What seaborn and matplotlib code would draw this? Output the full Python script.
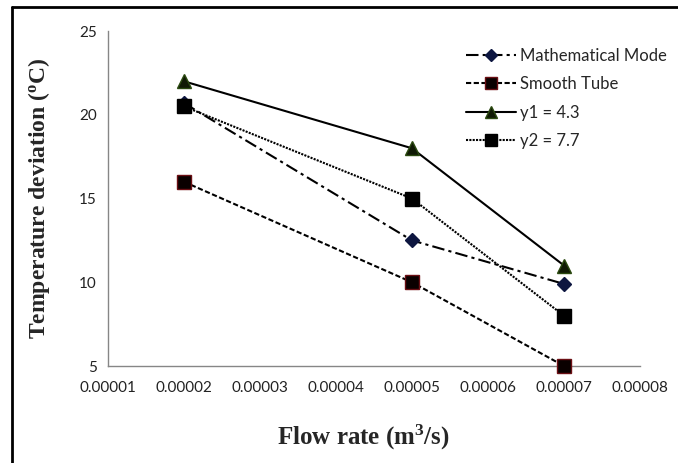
import matplotlib
matplotlib.use("Agg")
import matplotlib.pyplot as plt
from matplotlib.lines import Line2D
import pandas as pd
import seaborn as sns

# Data
flow_rate = [0.00002, 0.00005, 0.00007]
math_model = [20.7, 12.5, 9.9]
smooth_tube = [16.0, 10.0, 5.0]
y1_values = [22.0, 18.0, 11.0]
y2_values = [20.5, 15.0, 8.0]
series_names = ["Mathematical Mode", "Smooth Tube", "y1 = 4.3", "y2 = 7.7"]
x_ticks = [0.00001, 0.00002, 0.00003, 0.00004, 0.00005, 0.00006, 0.00007, 0.00008]
y_ticks = [5, 10, 15, 20, 25]

sns.set_style("white")
plt.rcParams["font.family"] = ["Lato", "DejaVu Sans"]

fig = plt.figure(figsize=(6.78, 4.63), dpi=100)
ax = fig.add_axes([0.159, 0.2095, 0.785, 0.7235])

# Style for each series: line style, marker, marker size, face, edge
styles = [
    dict(linestyle=(0, (6, 2, 1.5, 2)), marker="D", markersize=7, markerfacecolor="#0d1640", markeredgecolor="#0d1640"),
    dict(linestyle=(0, (2.5, 1.2)), marker="s", markersize=10, markerfacecolor="#0a0000", markeredgecolor="#6b0f14"),
    dict(linestyle="-", marker="^", markersize=10, markerfacecolor="#101a05", markeredgecolor="#2b4a10"),
    dict(linestyle=(0, (1, 0.6)), marker="s", markersize=10, markerfacecolor="#000000", markeredgecolor="#000000"),
]

all_values = [math_model, smooth_tube, y1_values, y2_values]
handles = []
for name, values, st in zip(series_names, all_values, styles):
    df = pd.DataFrame({"x": flow_rate, "y": values})
    sns.lineplot(data=df, x="x", y="y", ax=ax, color="black", linewidth=1.5,
                 markeredgewidth=1, clip_on=False, zorder=3, **st)
    handles.append(Line2D([], [], color="black", linewidth=1.5, label=name, markeredgewidth=1, **st))

ax.set_xlim(0.00001, 0.00008)
ax.set_ylim(5, 25)
ax.set_xticks(x_ticks)
ax.set_xticklabels([f"{t:.5f}" for t in x_ticks])
ax.set_yticks(y_ticks)
ax.set_yticklabels([str(t) for t in y_ticks])

for side in ["top", "right"]:
    ax.spines[side].set_visible(False)
for side in ["left", "bottom"]:
    ax.spines[side].set_color("#868686")
    ax.spines[side].set_linewidth(1)
ax.tick_params(axis="both", direction="out", length=5, width=1, color="#868686",
               labelsize=11, labelcolor="#222222")
ax.tick_params(axis="x", pad=6)
ax.tick_params(axis="y", pad=3)

ax.set_xlabel(r"Flow rate (m$\mathregular{^3}$/s)", fontsize=18, fontweight="bold",
              family="Liberation Serif")
ax.set_ylabel(r"Temperature deviation ($\mathregular{^o}$C)", fontsize=17, fontweight="bold",
              family="Liberation Serif")
ax.xaxis.set_label_coords(0.48, -0.17)
ax.yaxis.set_label_coords(-0.105, 0.5)

leg = ax.legend(handles=handles, loc="upper left", bbox_to_anchor=(0.645, 0.995),
                frameon=False, fontsize=12, handlelength=3.0, handletextpad=0.25,
                labelspacing=0.75, markerscale=0.9)

# Frame lines around the figure (top and left)
fig.add_artist(Line2D([12 / 678, 1.0], [1 - 7 / 463, 1 - 7 / 463], color="black", linewidth=2, transform=fig.transFigure))
fig.add_artist(Line2D([12 / 678, 12 / 678], [0.0, 1 - 7 / 463], color="black", linewidth=2, transform=fig.transFigure))

fig.savefig("out.png", dpi=100)
